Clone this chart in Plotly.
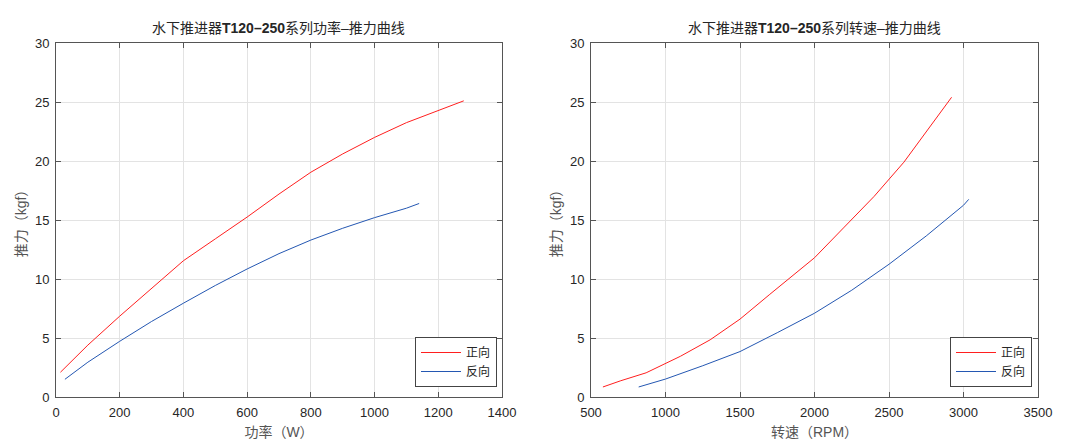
import plotly.graph_objects as go
from plotly.subplots import make_subplots

# === 功率-推力 数据 ===
power_fwd = [14, 100, 200, 300, 400, 500, 600, 700, 800, 900, 1000, 1100, 1200, 1280]
thrust_power_fwd = [2.1, 4.4, 6.85, 9.2, 11.55, 13.4, 15.25, 17.2, 19.05, 20.6, 22.0, 23.25, 24.3, 25.1]
power_rev = [28, 100, 200, 300, 400, 500, 600, 700, 800, 900, 1000, 1100, 1140]
thrust_power_rev = [1.5, 2.95, 4.72, 6.4, 7.95, 9.45, 10.85, 12.15, 13.3, 14.3, 15.2, 16.0, 16.4]

# === 转速-推力 数据 ===
rpm_fwd = [580, 700, 870, 1000, 1100, 1300, 1500, 1700, 1900, 2000, 2200, 2400, 2600, 2800, 2920]
thrust_rpm_fwd = [0.85, 1.38, 2.05, 2.83, 3.45, 4.85, 6.6, 8.7, 10.75, 11.8, 14.4, 17.0, 19.9, 23.3, 25.4]
rpm_rev = [820, 1000, 1250, 1500, 1750, 2000, 2250, 2500, 2750, 3000, 3035]
thrust_rpm_rev = [0.85, 1.52, 2.65, 3.85, 5.45, 7.1, 9.05, 11.25, 13.65, 16.25, 16.75]

titles = ["水下推进器<b>T120–250</b>系列功率–推力曲线", "水下推进器<b>T120–250</b>系列转速–推力曲线"]
x_titles = ["功率（W）", "转速（RPM）"]
y_title = "推力（kgf）"
series_names = ["正向", "反向"]

RED = "#ff1f1f"
BLUE = "#2457b2"
TXT = "#262626"
LBL = "#555555"
FONT = "Liberation Sans, Arial, Noto Sans CJK SC, sans-serif"

fig = make_subplots(rows=1, cols=2)

line_kw = dict(width=1)
fig.add_trace(go.Scatter(x=power_fwd, y=thrust_power_fwd, mode="lines", name=series_names[0],
                         line=dict(line_kw, color=RED), legend="legend"), row=1, col=1)
fig.add_trace(go.Scatter(x=power_rev, y=thrust_power_rev, mode="lines", name=series_names[1],
                         line=dict(line_kw, color=BLUE), legend="legend"), row=1, col=1)
fig.add_trace(go.Scatter(x=rpm_fwd, y=thrust_rpm_fwd, mode="lines", name=series_names[0],
                         line=dict(line_kw, color=RED), legend="legend2"), row=1, col=2)
fig.add_trace(go.Scatter(x=rpm_rev, y=thrust_rpm_rev, mode="lines", name=series_names[1],
                         line=dict(line_kw, color=BLUE), legend="legend2"), row=1, col=2)

W, H = 1068, 448
y0, y1 = (H - 397) / H, (H - 43) / H
dom1 = [56 / W, 502 / W]
dom2 = [591 / W, 1038 / W]

axis_style = dict(
    automargin=False,
    showgrid=True, gridcolor="#e3e3e3", gridwidth=1,
    showline=True, linecolor="#555555", linewidth=1, mirror="ticks",
    ticks="inside", ticklen=5, tickcolor="#555555",
    tickfont=dict(size=13, color=TXT, family=FONT),
    ticklabelstandoff=3,
    zeroline=False,
)

fig.update_xaxes(axis_style)
fig.update_yaxes(axis_style)
fig.update_xaxes(domain=dom1, range=[0, 1400], dtick=200, row=1, col=1,
                 title=dict(text=x_titles[0], font=dict(size=14, color=LBL, family=FONT), standoff=8))
fig.update_xaxes(domain=dom2, range=[500, 3500], dtick=500, row=1, col=2,
                 title=dict(text=x_titles[1], font=dict(size=14, color=LBL, family=FONT), standoff=8))
for c in (1, 2):
    fig.update_yaxes(domain=[y0, y1], range=[0, 30], dtick=5, row=1, col=c,
                     title=dict(text=y_title, font=dict(size=14, color=LBL, family=FONT), standoff=5))

legend_style = dict(
    xanchor="right", yanchor="bottom",
    bgcolor="white", bordercolor="#444444", borderwidth=1,
    font=dict(size=12, color=TXT, family=FONT),
    tracegroupgap=0, itemwidth=40,
)

fig.update_layout(
    width=W, height=H,
    margin=dict(l=0, r=0, t=0, b=0),
    paper_bgcolor="white", plot_bgcolor="white",
    showlegend=True,
    legend=dict(legend_style, x=497 / W, y=(H - 387) / H),
    legend2=dict(legend_style, x=1032 / W, y=(H - 387) / H),
    annotations=[
        dict(text=titles[0], x=(dom1[0] + dom1[1]) / 2, y=(H - 28) / H, xref="paper", yref="paper",
             showarrow=False, font=dict(size=14, color=TXT, family=FONT),
             xanchor="center", yanchor="middle"),
        dict(text=titles[1], x=(dom2[0] + dom2[1]) / 2, y=(H - 28) / H, xref="paper", yref="paper",
             showarrow=False, font=dict(size=14, color=TXT, family=FONT),
             xanchor="center", yanchor="middle"),
    ],
)

fig.write_html("out.html", config={"displayModeBar": False},
               post_script="document.body.style.margin='0';")
